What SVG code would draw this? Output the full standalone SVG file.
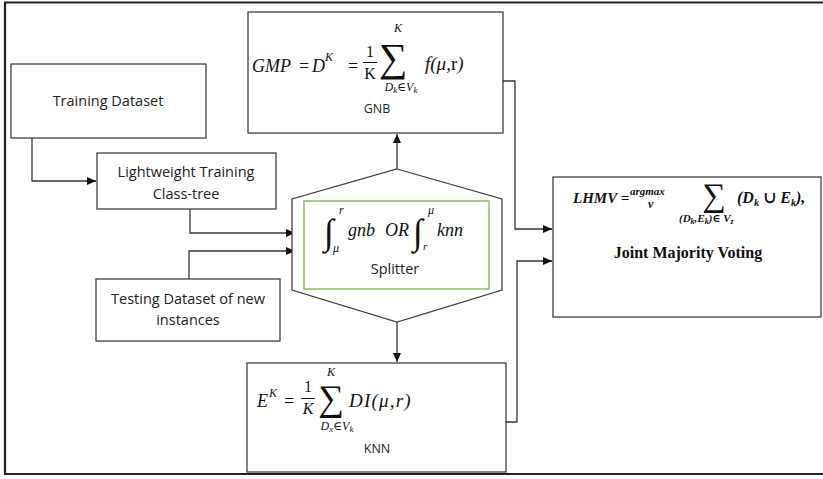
<svg xmlns="http://www.w3.org/2000/svg" width="823" height="479" viewBox="0 0 823 479">
<style>
.box{fill:#fff;stroke:#404040;stroke-width:1.3}
.ln{fill:none;stroke:#333;stroke-width:1.3}
.lbl{font-family:"Open Sans","Liberation Sans",sans-serif;font-size:14.5px;fill:#222;text-anchor:middle}
.sm{font-family:"Open Sans","Liberation Sans",sans-serif;font-size:12.5px;fill:#222;text-anchor:middle}
.m{font-family:"Liberation Serif","DejaVu Serif",serif;font-style:italic;fill:#111}
.mr{font-family:"Liberation Serif","DejaVu Serif",serif;fill:#111}
.b{font-family:"Liberation Serif","DejaVu Serif",serif;font-weight:bold;fill:#111}
</style>
<defs>
<marker id="ah" markerWidth="10" markerHeight="10" refX="9" refY="5" orient="auto" markerUnits="userSpaceOnUse">
<path d="M0,1 L9,5 L0,9 Z" fill="#111"/>
</marker>
</defs>
<rect width="823" height="479" fill="#fff"/>
<path d="M823,2.5 H5 V474 H823" fill="none" stroke="#222" stroke-width="2.2"/>

<g id="connectors">
<path class="ln" d="M32,138 V181 H96" marker-end="url(#ah)"/>
<path class="ln" d="M190,209 V233 H295" marker-end="url(#ah)"/>
<path class="ln" d="M189,279 V251 H295" marker-end="url(#ah)"/>
<path class="ln" d="M397,169 V134" marker-end="url(#ah)"/>
<path class="ln" d="M397,322 V362" marker-end="url(#ah)"/>
<path class="ln" d="M503,81 H515 V229 H552" marker-end="url(#ah)"/>
<path class="ln" d="M506,422 H517 V261 H552" marker-end="url(#ah)"/>
</g>

<g id="training">
<rect class="box" x="11" y="64" width="195" height="74"/>
<text class="lbl" x="108" y="106">Training Dataset</text>
</g>

<g id="lightweight">
<rect class="box" x="97" y="153" width="179" height="56"/>
<text class="lbl" x="186" y="177">Lightweight Training</text>
<text class="lbl" x="186" y="199">Class-tree</text>
</g>

<g id="testing">
<rect class="box" x="96" y="279" width="184" height="62"/>
<text class="lbl" x="188" y="304">Testing Dataset of new</text>
<text class="lbl" x="188" y="325">instances</text>
</g>

<g id="gnb">
<rect class="box" x="248" y="12" width="255" height="121"/>
<text class="m" x="252" y="72" font-size="18">GMP</text>
<text class="mr" x="299" y="72" font-size="18">=</text>
<text class="m" x="312" y="72" font-size="18">D</text>
<text class="m" x="325" y="61" font-size="12">K</text>
<text class="mr" x="348" y="72" font-size="18">=</text>
<text class="mr" x="370" y="57" font-size="16" text-anchor="middle">1</text>
<line x1="363" y1="62.5" x2="377" y2="62.5" stroke="#111" stroke-width="1"/>
<text class="mr" x="370" y="79" font-size="16" text-anchor="middle">K</text>
<text class="mr" x="393" y="71" font-size="40" text-anchor="middle">∑</text>
<text class="m" x="398" y="32" font-size="12" text-anchor="middle">K</text>
<text class="m" x="401" y="91" font-size="12" text-anchor="middle">D<tspan font-size="9" dy="2">k</tspan><tspan dy="-2">∈V</tspan><tspan font-size="9" dy="2">k</tspan></text>
<text class="m" x="425" y="70" font-size="19">f(μ,<tspan font-style="normal">r</tspan>)</text>
<text class="sm" x="377" y="113">GNB</text>
</g>

<g id="splitter">
<polygon class="box" points="397,169 502,199 502,290 397,322 292,290 292,199"/>
<rect x="304" y="201" width="185" height="88" fill="none" stroke="#7dbb55" stroke-width="1.4"/>
<text class="m" x="324" y="244" font-size="36">∫</text>
<text class="m" x="339" y="214" font-size="12">r</text>
<text class="m" x="333" y="252" font-size="12">μ</text>
<text class="m" x="348" y="236" font-size="18">gnb</text>
<text class="m" x="385" y="236" font-size="18">OR</text>
<text class="m" x="413" y="244" font-size="36">∫</text>
<text class="m" x="428" y="214" font-size="12">μ</text>
<text class="m" x="423" y="250" font-size="11">r</text>
<text class="m" x="437" y="236" font-size="18">knn</text>
<text class="lbl" x="395" y="274">Splitter</text>
</g>

<g id="knn">
<rect class="box" x="247" y="363" width="259" height="109"/>
<text class="m" x="257" y="407" font-size="18">E</text>
<text class="m" x="269" y="397" font-size="12">K</text>
<text class="mr" x="284" y="407" font-size="18">=</text>
<text class="mr" x="308" y="392" font-size="16" text-anchor="middle">1</text>
<line x1="301" y1="398.5" x2="315" y2="398.5" stroke="#111" stroke-width="1"/>
<text class="m" x="308" y="414" font-size="16" text-anchor="middle">K</text>
<text class="mr" x="331" y="410" font-size="36" text-anchor="middle">∑</text>
<text class="m" x="331" y="376" font-size="12" text-anchor="middle">K</text>
<text class="m" x="337" y="430" font-size="12" text-anchor="middle">D<tspan font-size="9" dy="2">x</tspan><tspan dy="-2">∈V</tspan><tspan font-size="9" dy="2">k</tspan></text>
<text class="m" x="349" y="407" font-size="19" letter-spacing="1.2">DI(μ,r)</text>
<text class="sm" x="377" y="453">KNN</text>
</g>

<g id="voting">
<rect class="box" x="553" y="177" width="268" height="140"/>
<text class="b" x="573" y="203" font-size="15" font-style="italic">LHMV =</text>
<text class="m" x="630" y="195" font-size="11" font-weight="bold">argmax</text>
<text class="m" x="648" y="208" font-size="12" font-weight="bold">v</text>
<text class="mr" x="714" y="206" font-size="33" text-anchor="middle">∑</text>
<text class="b" x="737" y="203" font-size="16" font-style="italic">(D<tspan font-size="10" dy="3">k</tspan><tspan dy="-3"> ∪ E</tspan><tspan font-size="10" dy="3">k</tspan><tspan dy="-3">),</tspan></text>
<text class="b" x="679" y="222" font-size="11" font-style="italic">(D<tspan font-size="8" dy="2">k</tspan><tspan dy="-2">,E</tspan><tspan font-size="8" dy="2">k</tspan><tspan dy="-2">)∈ V</tspan><tspan font-size="8" dy="2">z</tspan></text>
<text class="b" x="688" y="258" font-size="16" text-anchor="middle">Joint Majority Voting</text>
</g>
</svg>
